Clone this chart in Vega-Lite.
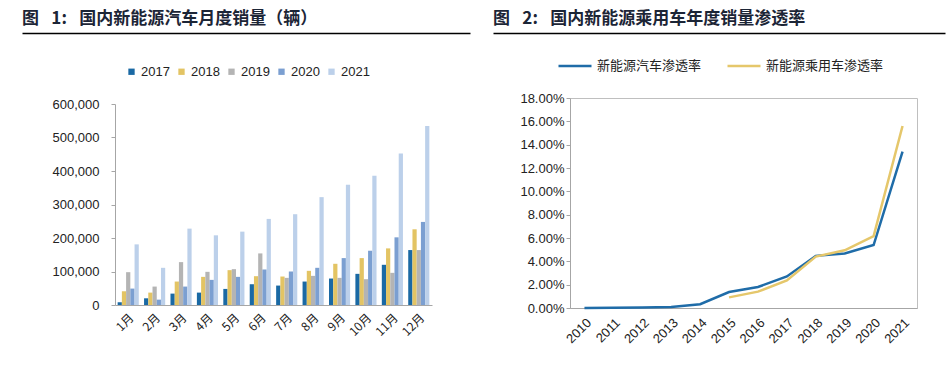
{
  "$schema": "https://vega.github.io/schema/vega-lite/v6.json",
  "padding": {"left": 22, "top": 10, "right": 0, "bottom": 0},
  "background": "white",
  "resolve": {"scale": {"color": "independent"}, "legend": {"color": "independent"}},
  "config": {
    "view": {"stroke": null},
    "font": "Liberation Sans",
    "axis": {"labelFont": "Liberation Sans", "labelColor": "#222222", "domainColor": "#A6A6A6", "tickColor": "#A6A6A6", "grid": false, "title": null},
    "title": {"font": "Noto Sans CJK SC", "fontSize": 17, "fontWeight": "bold", "color": "#1C2536", "anchor": "start", "frame": "bounds", "offset": 0}
  },
  "datasets": {
    "monthly": [
      {"month": "1月", "year": "2017", "sales": 8000},
      {"month": "1月", "year": "2018", "sales": 41000},
      {"month": "1月", "year": "2019", "sales": 98000},
      {"month": "1月", "year": "2020", "sales": 49000},
      {"month": "1月", "year": "2021", "sales": 181000},
      {"month": "2月", "year": "2017", "sales": 20000},
      {"month": "2月", "year": "2018", "sales": 37000},
      {"month": "2月", "year": "2019", "sales": 55000},
      {"month": "2月", "year": "2020", "sales": 16000},
      {"month": "2月", "year": "2021", "sales": 111000},
      {"month": "3月", "year": "2017", "sales": 34000},
      {"month": "3月", "year": "2018", "sales": 70000},
      {"month": "3月", "year": "2019", "sales": 128000},
      {"month": "3月", "year": "2020", "sales": 55000},
      {"month": "3月", "year": "2021", "sales": 228000},
      {"month": "4月", "year": "2017", "sales": 37000},
      {"month": "4月", "year": "2018", "sales": 84000},
      {"month": "4月", "year": "2019", "sales": 99000},
      {"month": "4月", "year": "2020", "sales": 75000},
      {"month": "4月", "year": "2021", "sales": 208000},
      {"month": "5月", "year": "2017", "sales": 48000},
      {"month": "5月", "year": "2018", "sales": 104000},
      {"month": "5月", "year": "2019", "sales": 107000},
      {"month": "5月", "year": "2020", "sales": 84000},
      {"month": "5月", "year": "2021", "sales": 219000},
      {"month": "6月", "year": "2017", "sales": 62000},
      {"month": "6月", "year": "2018", "sales": 86000},
      {"month": "6月", "year": "2019", "sales": 154000},
      {"month": "6月", "year": "2020", "sales": 106000},
      {"month": "6月", "year": "2021", "sales": 257000},
      {"month": "7月", "year": "2017", "sales": 58000},
      {"month": "7月", "year": "2018", "sales": 85000},
      {"month": "7月", "year": "2019", "sales": 81000},
      {"month": "7月", "year": "2020", "sales": 100000},
      {"month": "7月", "year": "2021", "sales": 271000},
      {"month": "8月", "year": "2017", "sales": 70000},
      {"month": "8月", "year": "2018", "sales": 102000},
      {"month": "8月", "year": "2019", "sales": 87000},
      {"month": "8月", "year": "2020", "sales": 111000},
      {"month": "8月", "year": "2021", "sales": 322000},
      {"month": "9月", "year": "2017", "sales": 79000},
      {"month": "9月", "year": "2018", "sales": 123000},
      {"month": "9月", "year": "2019", "sales": 81000},
      {"month": "9月", "year": "2020", "sales": 140000},
      {"month": "9月", "year": "2021", "sales": 359000},
      {"month": "10月", "year": "2017", "sales": 93000},
      {"month": "10月", "year": "2018", "sales": 140000},
      {"month": "10月", "year": "2019", "sales": 77000},
      {"month": "10月", "year": "2020", "sales": 162000},
      {"month": "10月", "year": "2021", "sales": 386000},
      {"month": "11月", "year": "2017", "sales": 120000},
      {"month": "11月", "year": "2018", "sales": 169000},
      {"month": "11月", "year": "2019", "sales": 96000},
      {"month": "11月", "year": "2020", "sales": 202000},
      {"month": "11月", "year": "2021", "sales": 452000},
      {"month": "12月", "year": "2017", "sales": 164000},
      {"month": "12月", "year": "2018", "sales": 226000},
      {"month": "12月", "year": "2019", "sales": 164000},
      {"month": "12月", "year": "2020", "sales": 248000},
      {"month": "12月", "year": "2021", "sales": 534000}
    ],
    "rate": [
      {"year": "2010", "series": "新能源汽车渗透率", "rate": 0.0001},
      {"year": "2011", "series": "新能源汽车渗透率", "rate": 0.0003},
      {"year": "2012", "series": "新能源汽车渗透率", "rate": 0.0005},
      {"year": "2013", "series": "新能源汽车渗透率", "rate": 0.0008},
      {"year": "2014", "series": "新能源汽车渗透率", "rate": 0.0032},
      {"year": "2015", "series": "新能源汽车渗透率", "rate": 0.0137},
      {"year": "2016", "series": "新能源汽车渗透率", "rate": 0.018},
      {"year": "2017", "series": "新能源汽车渗透率", "rate": 0.027},
      {"year": "2018", "series": "新能源汽车渗透率", "rate": 0.0447},
      {"year": "2019", "series": "新能源汽车渗透率", "rate": 0.0467},
      {"year": "2020", "series": "新能源汽车渗透率", "rate": 0.054},
      {"year": "2021", "series": "新能源汽车渗透率", "rate": 0.134},
      {"year": "2015", "series": "新能源乘用车渗透率", "rate": 0.0091},
      {"year": "2016", "series": "新能源乘用车渗透率", "rate": 0.014},
      {"year": "2017", "series": "新能源乘用车渗透率", "rate": 0.0236},
      {"year": "2018", "series": "新能源乘用车渗透率", "rate": 0.0441},
      {"year": "2019", "series": "新能源乘用车渗透率", "rate": 0.0495},
      {"year": "2020", "series": "新能源乘用车渗透率", "rate": 0.0617},
      {"year": "2021", "series": "新能源乘用车渗透率", "rate": 0.156}
    ],
    "header": [{"v": 0}]
  },
  "hconcat": [
    {
      "spacing": 65,
      "vconcat": [
        {
          "title": {"text": "图\u2002 1:\u2002 国内新能源汽车月度销量（辆）"},
          "data": {"name": "header"},
          "width": 317,
          "height": 1,
          "mark": {"type": "point", "opacity": 0, "size": 0},
          "encoding": {
            "x": {"field": "v", "type": "quantitative",
              "scale": {"domain": [0, 1], "range": [-93, 355]},
              "axis": {"domain": true, "domainColor": "#000000", "domainWidth": 1.5, "ticks": false, "labels": false, "grid": false}}
          }
        },
        {
          "data": {"name": "monthly"},
          "width": 317,
          "height": 201,
          "mark": {"type": "bar"},
          "encoding": {
            "x": {"field": "month", "type": "nominal", "sort": null,
              "scale": {"paddingInner": 0.2, "paddingOuter": 0.1},
              "axis": {"labelAngle": -45, "labelFontSize": 12, "labelFont": "Noto Sans CJK SC", "ticks": false, "labelPadding": 7}},
            "xOffset": {"field": "year", "type": "nominal", "scale": {"paddingInner": 0}},
            "y": {"field": "sales", "type": "quantitative",
              "scale": {"domain": [0, 600000], "nice": false},
              "axis": {"values": [0, 100000, 200000, 300000, 400000, 500000, 600000], "format": ",d", "labelFontSize": 13, "tickSize": 4, "labelPadding": 12}},
            "color": {"field": "year", "type": "nominal",
              "scale": {"domain": ["2017", "2018", "2019", "2020", "2021"], "range": ["#1A69A4", "#E3C464", "#B4B4B4", "#7B9FD1", "#BCD0EA"]},
              "legend": {"orient": "none", "direction": "horizontal", "legendX": 10, "legendY": 33, "title": null,
                "symbolType": "square", "symbolSize": 40, "symbolStrokeWidth": 0, "labelOffset": 3, "columnPadding": 5,
                "labelFont": "Liberation Sans", "labelFontSize": 13, "labelColor": "#222222", "padding": 0}}
          }
        }
      ]
    },
    {
      "spacing": 58,
      "vconcat": [
        {
          "title": {"text": "图\u2002 2:\u2002 国内新能源乘用车年度销量渗透率"},
          "data": {"name": "header"},
          "width": 347,
          "height": 1,
          "mark": {"type": "point", "opacity": 0, "size": 0},
          "encoding": {
            "x": {"field": "v", "type": "quantitative",
              "scale": {"domain": [0, 1], "range": [-77, 375]},
              "axis": {"domain": true, "domainColor": "#000000", "domainWidth": 1.5, "ticks": false, "labels": false, "grid": false}}
          }
        },
        {
          "data": {"name": "rate"},
          "width": 347,
          "height": 210,
          "view": {"stroke": "#BFBFBF", "strokeWidth": 1},
          "mark": {"type": "line", "strokeWidth": 2.5},
          "encoding": {
            "x": {"field": "year", "type": "ordinal",
              "scale": {"type": "point", "padding": 0.5},
              "axis": {"labelAngle": -45, "labelFontSize": 13, "ticks": false, "labelPadding": 8}},
            "y": {"field": "rate", "type": "quantitative",
              "scale": {"domain": [0, 0.18], "nice": false},
              "axis": {"values": [0, 0.02, 0.04, 0.06, 0.08, 0.1, 0.12, 0.14, 0.16, 0.18], "format": ".2%", "labelFontSize": 13, "tickSize": 4}},
            "color": {"field": "series", "type": "nominal",
              "scale": {"domain": ["新能源汽车渗透率", "新能源乘用车渗透率"], "range": ["#1F6CA8", "#E5C76B"]},
              "legend": {"orient": "none", "direction": "horizontal", "legendX": -13, "legendY": 16, "title": null,
                "symbolType": "stroke", "symbolSize": 1089, "symbolStrokeWidth": 2.5, "labelOffset": 4, "columnPadding": 20,
                "labelFont": "Noto Sans CJK SC", "labelFontSize": 13, "labelColor": "#222222", "padding": 0}}
          }
        }
      ]
    }
  ],
  "spacing": -70
}
